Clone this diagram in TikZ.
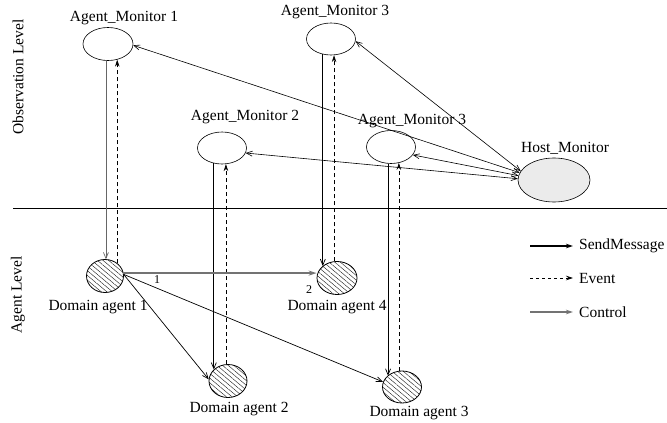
\documentclass[tikz,border=0pt]{standalone}
\usepackage{fontspec}
\setmainfont{Liberation Serif}
\usetikzlibrary{arrows.meta,patterns.meta,shapes.geometric}
\begin{document}
\begin{tikzpicture}[x=1pt,y=-1pt,
  font=\fontsize{15.5}{18}\selectfont,
  mon/.style={draw,ellipse,inner sep=0pt,minimum width=49pt,minimum height=32pt,line width=0.6pt},
  dom/.style={draw,ellipse,inner sep=0pt,minimum width=38pt,minimum height=33pt,line width=0.8pt,pattern={Lines[angle=-40,distance=3.6pt,line width=0.45pt]},pattern color=black!85},
  lbl/.style={inner sep=0pt},
  openarr/.style={-{Straight Barb[length=6pt,width=5pt]}},
  ctrl/.style={line width=0.7pt,openarr},
  evt/.style={dashed,dash pattern=on 4pt off 3pt,line width=0.7pt,-{Stealth[length=7pt,width=4.5pt]}},
  dbl/.style={line width=0.6pt,{Straight Barb[length=6pt,width=5pt]}-{Straight Barb[length=6pt,width=5pt]}},
]
\useasboundingbox (0,0) rectangle (667,423);

% level separator
\coordinate (sepL) at (13,208);
\coordinate (sepR) at (667,208);
\draw[line width=0.7pt] (sepL) -- (sepR);

\node[lbl,rotate=90] (obs) at (18,77) {Observation Level};
\node[lbl,rotate=90] (agl) at (18,295) {Agent Level};

% monitors
\node[mon,minimum width=50pt,minimum height=33pt] (am1) at (108,44) {};
\node[mon] (am3t) at (331,39) {};
\node[mon] (am2) at (222,148) {};
\node[mon,minimum height=33pt] (am3b) at (391,147) {};
\node[draw,ellipse,inner sep=0pt,minimum width=72pt,minimum height=44pt,fill=black!8,line width=0.6pt] (hm) at (554,180) {};

\node[lbl] (am1l) at (124,18) {Agent\_Monitor 1};
\node[lbl] (am3tl) at (335,12) {Agent\_Monitor 3};
\node[lbl] (am2l) at (245,117) {Agent\_Monitor 2};
\node[lbl] (am3bl) at (412,121) {Agent\_Monitor 3};
\node[lbl] (hml) at (565,148) {Host\_Monitor};

% domain agents
\node[dom,minimum width=37pt] (da1) at (105,276) {};
\node[dom,minimum width=40pt] (da4) at (337,278) {};
\node[dom] (da2) at (228,381) {};
\node[dom,minimum width=39pt,minimum height=32pt] (da3) at (402,387) {};

\node[lbl] (da1l) at (98,307) {Domain agent 1};
\node[lbl] (da4l) at (337,307) {Domain agent 4};
\node[lbl] (da2l) at (239,409) {Domain agent 2};
\node[lbl] (da3l) at (419,413) {Domain agent 3};

% vertical control / event lines
\draw[ctrl,draw=black!60] (am1.263) -- (da1.87 -| am1.263);
\draw[evt] (da1.46) -- (am1.300 -| da1.46);
\draw[ctrl] (am2.242) -- (da2.141 -| am2.242);
\draw[evt] (da2.97) -- (am2.284 -| da2.97);
\draw[ctrl] (am3t.242) -- (da4.140 -| am3t.242);
\draw[evt] (da4.100) -- (am3t.281 -| da4.100);
\draw[ctrl] (am3b.260) -- (da3.142 -| am3b.260);
\draw[evt] (da3.101) -- (am3b.297 -| da3.101);

% host monitor links
\draw[dbl] (am1.-3) -- (hm.168);
\draw[dbl] (am3t.-5) -- (hm.165);
\draw[dbl] (am3b.-20) -- (hm.173);
\draw[dbl] (am2.-12) -- (hm.178);

% domain agent links
\draw[line width=1.3pt,draw=black!55,-{Stealth[length=8pt,width=5pt]}] (da1.9) -- (da1.9 -| da4.west);
\node[lbl,font=\fontsize{12}{14}\selectfont] (n1) at (157,280) {1};
\node[lbl,font=\fontsize{12}{14}\selectfont] (n2) at (309,290) {2};
\draw[ctrl] (da1.5) -- (da2.175);
\draw[ctrl] (da1.5) -- (da3.165);

% legend
\coordinate (s1) at (530,246); \coordinate (e1) at (573,246);
\coordinate (s2) at (530,278); \coordinate (e2) at (573,278);
\coordinate (s3) at (530,312); \coordinate (e3) at (573,312);
\draw[line width=1.5pt,-{Stealth[length=7pt,width=4.5pt]}] (s1) -- (e1);
\draw[dashed,dash pattern=on 3pt off 3pt,line width=0.7pt,-{Stealth[length=7pt,width=4.5pt]}] (s2) -- (e2);
\draw[line width=1.2pt,draw=black!55,-{Stealth[length=7pt,width=4.5pt]}] (s3) -- (e3);
\node[lbl,anchor=west] (lg1) at (579,246) {SendMessage};
\node[lbl,anchor=west] (lg2) at (579,278) {Event};
\node[lbl,anchor=west] (lg3) at (579,312) {Control};
\end{tikzpicture}
\end{document}
